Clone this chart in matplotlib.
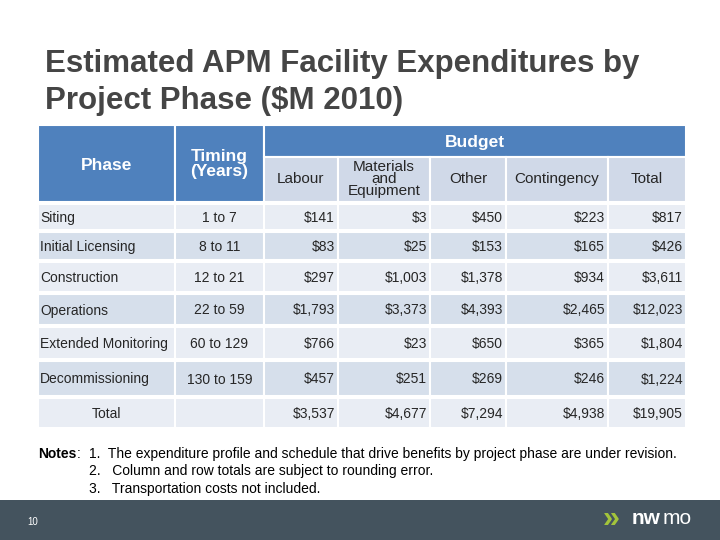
import matplotlib
matplotlib.use("Agg")
from matplotlib import pyplot as plt
from matplotlib.patches import Rectangle

plt.rcParams['font.family'] = ['Liberation Sans', 'DejaVu Sans']

phases = ["Siting", "Initial Licensing", "Construction", "Operations",
          "Extended Monitoring", "Decommissioning"]
timing = ["1 to 7", "8 to 11", "12 to 21", "22 to 59", "60 to 129", "130 to 159"]
labour = ["$141", "$83", "$297", "$1,793", "$766", "$457"]
materials = ["$3", "$25", "$1,003", "$3,373", "$23", "$251"]
other = ["$450", "$153", "$1,378", "$4,393", "$650", "$269"]
contingency = ["$223", "$165", "$934", "$2,465", "$365", "$246"]
total = ["$817", "$426", "$3,611", "$12,023", "$1,804", "$1,224"]
totals_row = ["$3,537", "$4,677", "$7,294", "$4,938", "$19,905"]
budget_cols = ["Labour", "Materials\nand\nEquipment", "Other", "Contingency", "Total"]
notes = ["1.  The expenditure profile and schedule that drive benefits by project phase are under revision.",
         "2.   Column and row totals are subject to rounding error.",
         "3.   Transportation costs not included."]

fig = plt.figure(figsize=(7.2, 5.4), dpi=100)
ax = fig.add_axes([0, 0, 1, 1])
ax.set_xlim(0, 720)
ax.set_ylim(540, 0)
ax.axis("off")

HEAD = "#4f81bd"
SUB = "#d0d9e8"
ROW_A = "#e9edf4"
ROW_B = "#d6dfeb"
TXT = "#262626"
FS = 10
OFF = 5  # baseline offset below the row centre

xe = [38, 175, 264, 338, 430, 506, 608, 686]
row_y = [(204, 230), (232, 260), (262, 292), (294, 325), (327, 359), (361, 396)]
tot_y = (398, 428)

def cell(x0, x1, y0, y1, c):
    ax.add_patch(Rectangle((x0, y0), x1 - x0, y1 - y0, fc=c, ec="white", lw=1.5))

# title
ax.text(45, 72, "Estimated APM Facility Expenditures by", fontsize=22.5, weight="bold",
        color="#454545", va="baseline")
ax.text(45, 109, "Project Phase ($M 2010)", fontsize=22.5, weight="bold",
        color="#454545", va="baseline")

# header
cell(xe[0], xe[1], 125, 202, HEAD)
cell(xe[1], xe[2], 125, 202, HEAD)
cell(xe[2], xe[7], 125, 157, HEAD)
ax.text((xe[0] + xe[1]) / 2, 170, "Phase", color="white", weight="bold", fontsize=12.5,
        ha="center", va="baseline")
ax.text((xe[1] + xe[2]) / 2, 164, "Timing\n(Years)", color="white", weight="bold",
        fontsize=12.5, ha="center", va="center", linespacing=1.05)
ax.text((xe[2] + xe[7]) / 2, 147, "Budget", color="white", weight="bold", fontsize=12.5,
        ha="center", va="baseline")
for i, lab in enumerate(budget_cols):
    cell(xe[2 + i], xe[3 + i], 157, 202, SUB)
    ax.text((xe[2 + i] + xe[3 + i]) / 2, 179, lab, color=TXT, fontsize=11,
            ha="center", va="center", linespacing=0.8)

# body
for r, (y0, y1) in enumerate(row_y):
    c = ROW_A if r % 2 == 0 else ROW_B
    for j in range(7):
        cell(xe[j], xe[j + 1], y0, y1, c)
    yb = (y0 + y1) / 2 + OFF
    ax.text(xe[0] + 2, yb, phases[r], fontsize=FS, color=TXT, va="baseline")
    ax.text((xe[1] + xe[2]) / 2, yb, timing[r], fontsize=FS, color=TXT,
            ha="center", va="baseline")
    vals = [labour[r], materials[r], other[r], contingency[r], total[r]]
    for j, v in enumerate(vals):
        ax.text(xe[3 + j] - 3, yb, v, fontsize=FS, color=TXT, ha="right", va="baseline")

y0, y1 = tot_y
for j in range(7):
    cell(xe[j], xe[j + 1], y0, y1, ROW_A)
yb = (y0 + y1) / 2 + OFF
ax.text((xe[0] + xe[1]) / 2, yb, "Total", fontsize=FS, color=TXT, ha="center", va="baseline")
for j, v in enumerate(totals_row):
    ax.text(xe[3 + j] - 3, yb, v, fontsize=FS, color=TXT, ha="right", va="baseline")

# notes
ax.text(38, 458, "Notes", fontsize=FS, weight="bold", color="black", va="baseline")
ax.text(77, 458, ":", fontsize=FS, color="black", va="baseline")
for i, n in enumerate(notes):
    ax.text(89, 458 + i * 17.5, n, fontsize=FS, color="black", va="baseline")

# footer
ax.add_patch(Rectangle((0, 500), 720, 40, fc="#44535e", ec="none"))
ax.text(27, 525, "10", fontsize=7, color="white", va="baseline")
ax.text(603, 519, "»", fontsize=22, weight="bold", color="#a3c43b", va="center")
ax.text(632, 519, "nw", fontsize=15, weight="bold", color="white", va="center")
ax.text(663, 519, "mo", fontsize=15, color="white", va="center")

fig.savefig("out.png", dpi=100)
